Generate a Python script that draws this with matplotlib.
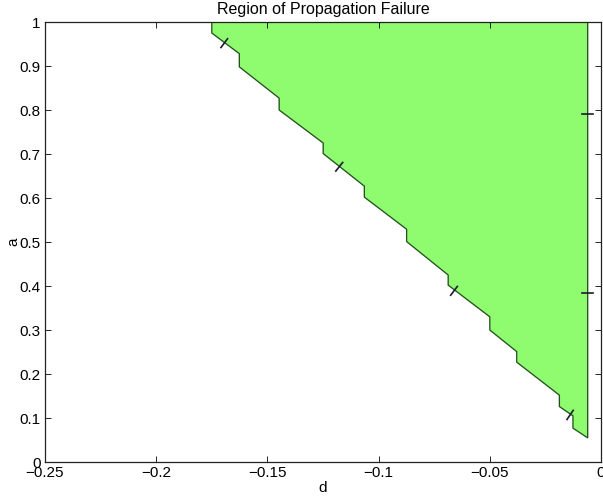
import numpy as np
import matplotlib
matplotlib.use("Agg")
import matplotlib.pyplot as plt

plt.rcParams['font.family'] = ['Liberation Sans', 'DejaVu Sans']
plt.rcParams['font.size'] = 11

# boundary of the failure region (left / lower edge), top to bottom
bd_d = [-0.1750, -0.1750, -0.1626, -0.1626, -0.1447, -0.1447, -0.1249, -0.1249,
        -0.1064, -0.1064, -0.0874, -0.0874, -0.0687, -0.0687, -0.0500, -0.0500,
        -0.0379, -0.0379, -0.0187, -0.0187, -0.0126, -0.0126, -0.0060]
bd_a = [1.000, 0.975, 0.928, 0.898, 0.827, 0.800, 0.725, 0.701,
        0.627, 0.602, 0.529, 0.501, 0.425, 0.402, 0.330, 0.300,
        0.251, 0.227, 0.152, 0.126, 0.105, 0.077, 0.055]
edge_d = -0.0060  # right edge of the computed region

# where the contour tick marks sit
tick_d = [-0.1694, -0.1177, -0.0661, -0.0139, -0.0060, -0.0060]
tick_a = [0.952, 0.671, 0.389, 0.107, 0.791, 0.383]

xticks = [-0.25, -0.2, -0.15, -0.1, -0.05, 0]
xlabels = ['\u22120.25', '\u22120.2', '\u22120.15', '\u22120.1', '\u22120.05', '0']
yticks = [0, 0.1, 0.2, 0.3, 0.4, 0.5, 0.6, 0.7, 0.8, 0.9, 1]
ylabels = ['0', '0.1', '0.2', '0.3', '0.4', '0.5', '0.6', '0.7', '0.8', '0.9', '1']

fig = plt.figure(figsize=(6.03, 5.0), dpi=100)
ax = fig.add_axes([45 / 603, 38 / 500, 556 / 603, 440 / 500])

poly_d = bd_d + [edge_d, bd_d[0]]
poly_a = bd_a + [1.0, 1.0]
ax.fill(poly_d, poly_a, color='#8ffb6e', zorder=1)
ax.plot(poly_d, poly_a, color='#2a4a2a', lw=0.9, zorder=2)

ax.set_xlim(-0.25, 0)
ax.set_ylim(0, 1)
fig.canvas.draw()

# short marks across the contour line, perpendicular in screen space
pts = ax.transData.transform(np.column_stack([poly_d, poly_a]))
inv = ax.transData.inverted()
for td, ta in zip(tick_d, tick_a):
    p = ax.transData.transform((td, ta))
    best, bdir = 1e9, None
    for i in range(len(pts) - 1):
        s0, s1 = pts[i], pts[i + 1]
        v = s1 - s0
        L = np.hypot(*v)
        if L == 0:
            continue
        t = np.clip(np.dot(p - s0, v) / L**2, 0, 1)
        dist = np.hypot(*(s0 + t * v - p))
        if dist < best:
            best, bdir = dist, v / L
    n = np.array([bdir[1], -bdir[0]])
    a0 = inv.transform(p - 5.5 * n)
    a1 = inv.transform(p + 5.5 * n)
    ax.plot([a0[0], a1[0]], [a0[1], a1[1]], color='#1c1c2c', lw=1.2, zorder=3)

ax.set_xticks(xticks)
ax.set_xticklabels(xlabels)
ax.set_yticks(yticks)
ax.set_yticklabels(ylabels)
ax.tick_params(direction='in', length=4.5, width=0.6, top=True, right=True, pad=3)
for s in ax.spines.values():
    s.set_linewidth(0.9)
    s.set_color('#222222')

ax.set_title('Region of Propagation Failure', fontsize=11.5, pad=6)
ax.set_xlabel('d')
ax.set_ylabel('a')
ax.xaxis.set_label_coords(0.5, -0.043)
ax.yaxis.set_label_coords(-0.044, 0.5)

fig.savefig('out.png', dpi=100)
